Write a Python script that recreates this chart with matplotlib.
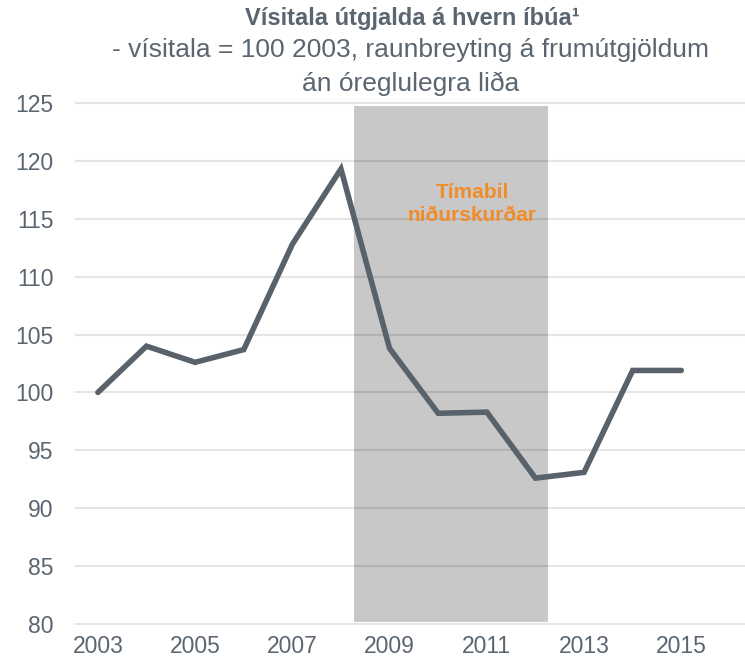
import matplotlib.pyplot as plt
from matplotlib.patches import Rectangle
import matplotlib.patheffects as pe

plt.rcParams['font.family'] = ['Liberation Sans', 'DejaVu Sans']

years = [2003, 2004, 2005, 2006, 2007, 2008, 2009, 2010, 2011, 2012, 2013, 2014, 2015]
index_values = [100.0, 104.0, 102.6, 103.7, 112.8, 119.3, 103.8, 98.2, 98.3, 92.6, 93.1, 101.9, 101.9]
x_ticks = [2003, 2005, 2007, 2009, 2011, 2013, 2015]
y_ticks = [80, 85, 90, 95, 100, 105, 110, 115, 120, 125]
cut_period = (2008.27, 2012.26)

text_col = '#5a6570'
line_col = '#59626b'

fig = plt.figure(figsize=(7.45, 6.62), dpi=100)
ax = fig.add_axes([0.102, 0.0574, 0.898, 0.787])

# shaded cut period with a soft shadow
shade = Rectangle((cut_period[0], 80.3), cut_period[1] - cut_period[0], 124.7 - 80.3,
                  facecolor='#c8c8c8', edgecolor='none', zorder=1)
shade.set_path_effects([pe.SimplePatchShadow(offset=(0, -1), shadow_rgbFace='#999999', alpha=0.5),
                        pe.Normal()])
ax.add_patch(shade)

ax.plot(years, index_values, color=line_col, lw=4, solid_capstyle='round',
        solid_joinstyle='miter', zorder=3)

ax.text(2010.7, 116.3, 'Tímabil\nniðurskurðar', ha='center', va='center',
        color='#f28c28', fontsize=15, fontweight='bold', linespacing=1.25, zorder=4)

ax.set_xlim(2002.55, 2016.31)
ax.set_ylim(80, 125)
ax.set_xticks(x_ticks)
ax.set_yticks(y_ticks)
ax.tick_params(length=0, labelsize=16.5, colors=text_col)
ax.tick_params(axis='y', pad=16)
ax.tick_params(axis='x', pad=8)
ax.yaxis.grid(True, color='#000000', alpha=0.1, lw=1.5)
for g in ax.get_ygridlines():
    g.set_zorder(2)
    g.set_clip_on(False)
for s in ax.spines.values():
    s.set_visible(False)

fig.text(0.554, 0.972, 'Vísitala útgjalda á hvern íbúa¹', ha='center', va='center',
         fontsize=17, fontweight='bold', color=text_col)
fig.text(0.551, 0.924, '- vísitala = 100 2003, raunbreyting á frumútgjöldum', ha='center',
         va='center', fontsize=19, color=text_col)
fig.text(0.551, 0.874, 'án óreglulegra liða', ha='center', va='center', fontsize=19, color=text_col)

plt.savefig('out.png', dpi=100)
